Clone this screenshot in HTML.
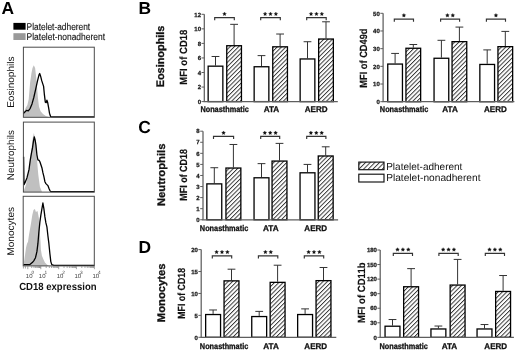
<!DOCTYPE html><html><head><meta charset="utf-8"><style>
html,body{margin:0;padding:0;background:#fff;width:520px;height:352px;overflow:hidden}
svg{display:block;font-family:"Liberation Sans", sans-serif;filter:grayscale(1);text-rendering:geometricPrecision}
.tk{font-size:6px;font-weight:bold;fill:#1a1a1a;stroke:#1a1a1a;stroke-width:0.25px}
.cat{font-size:8.3px;font-weight:bold;fill:#111;stroke:#111;stroke-width:0.3px}
.yl{font-size:10.4px;font-weight:bold;fill:#111;stroke:#111;stroke-width:0.15px}
.cl{font-size:11px;font-weight:bold;fill:#111;stroke:#111;stroke-width:0.3px}
.pl{font-size:17.4px;font-weight:bold;fill:#000}
.lg{font-size:10.2px;fill:#111}
.lgA{font-size:9.8px;fill:#111;stroke:#111;stroke-width:0.12px}
.hl{font-size:9.8px;fill:#111}
.ht{font-size:6px;fill:#444}
.hs{font-size:4.8px;fill:#444}
</style></head><body>
<svg width="520" height="352" viewBox="0 0 520 352">
<defs>
<pattern id="hatch" patternUnits="userSpaceOnUse" width="3.05" height="10" patternTransform="rotate(45)"><rect width="3.05" height="10" fill="#fff"/><line x1="0.5" y1="0" x2="0.5" y2="10" stroke="#222" stroke-width="0.88"/></pattern>
<pattern id="hatchL" patternUnits="userSpaceOnUse" width="3.3" height="10" patternTransform="rotate(45)"><rect width="3.3" height="10" fill="#fff"/><line x1="0.5" y1="0" x2="0.5" y2="10" stroke="#333" stroke-width="0.95"/></pattern>
<polygon id="star" points="0.00,-1.95 0.59,-0.81 1.85,-0.60 0.95,0.31 1.15,1.58 0.00,1.00 -1.15,1.58 -0.95,0.31 -1.85,-0.60 -0.59,-0.81" fill="#111" stroke="#111" stroke-width="0.3"/>
</defs>
<text x="1.6" y="13.6" class="pl">A</text>
<text x="138.4" y="13.6" class="pl">B</text>
<text x="138.2" y="132.6" class="pl">C</text>
<text x="138.4" y="253" class="pl">D</text>
<rect x="13.4" y="22.9" width="12.2" height="6.8" fill="#000"/>
<rect x="13.4" y="33.2" width="12.2" height="6.8" fill="#9a9a9a"/>
<text x="26.6" y="29.7" class="lgA" textLength="63.6" lengthAdjust="spacingAndGlyphs">Platelet-adherent</text>
<text x="26.6" y="40.1" class="lgA" textLength="78.4" lengthAdjust="spacingAndGlyphs">Platelet-nonadherent</text>
<polygon points="23.4,117.3 23.4,117 24.6,110.4 25.9,107.6 27.4,104.9 28.7,99.3 30.1,82.7 31.4,73.5 32.5,67.9 33.8,65.2 35.1,67.9 36.2,77.2 37,86.4 37.9,97.5 39,106.7 40.6,111.3 43,114.1 45.8,115.9 49.5,117.3" fill="#c0c0c0"/>
<polyline points="23.4,113.7 24.6,112.2 26.5,110.4 28.3,110.8 30.1,108.6 32,103.9 33.8,97.5 35.7,89.2 37.5,80.9 39,74.9 39.7,73.5 40.6,76.2 41.8,80.9 42.7,83.6 43.6,86.4 44.3,93.8 45.3,102.1 46.2,102.6 46.9,100.2 47.6,102.1 48.6,107.6 49.5,113.2 50.6,116.5 51.7,116.9 94.3,116.9" fill="none" stroke="#000" stroke-width="1.3" stroke-linejoin="round"/>
<rect x="23.4" y="47.2" width="70.9" height="70.1" fill="none" stroke="#4a4a4a" stroke-width="1"/>
<polygon points="23.4,192.1 23.4,191.7 26,184.7 29,168.8 31,152.9 32.9,136.9 33.9,133 35.5,140.9 36.9,158.8 38.3,174.8 39.9,186.7 41.9,191.7 41.9,192.1" fill="#c0c0c0"/>
<polyline points="23.6,156.8 24,184.6 25,182.7 27,177.7 29,169.7 30.3,159.8 31.5,152.8 32.5,147.9 33.5,140.9 34.3,136.9 35.1,139.9 35.9,144.9 36.9,154.8 37.9,159.8 39.1,160.4 39.9,161.8 40.9,164.8 41.9,167.7 42.9,172.7 43.9,176.7 44.9,181.7 45.9,183.6 46.9,184.6 47.9,185.6 48.9,188.2 49.9,190.6 50.8,191.6 94.3,191.6" fill="none" stroke="#000" stroke-width="1.3" stroke-linejoin="round"/>
<rect x="23.4" y="122.1" width="70.9" height="70" fill="none" stroke="#4a4a4a" stroke-width="1"/>
<polygon points="23.4,265.9 23.4,265.5 24.4,259.6 26,247.7 27,243.7 28,241.7 29,234.8 30.9,223.9 32.3,214.9 33.5,209.9 34.9,208.9 35.9,211.9 37.5,210.9 38.9,217.9 39.5,225.8 39.9,233.8 40.5,241.7 40.9,249.7 41.9,255.7 43.5,259.6 44.9,262.6 46.9,264.6 48.9,265.9" fill="#c0c0c0"/>
<polyline points="23.4,264.6 29.9,264.6 32.3,262.6 33.9,260.6 35.5,257.7 36.9,251.7 37.9,243.7 38.9,231.8 39.9,221.9 40.9,214.9 41.9,208.9 42.9,203 43.9,208.9 44.9,216.9 45.9,222.9 46.9,226.8 47.9,235.8 48.9,243.7 49.9,253.7 50.8,261.6 51.8,264.6 53.8,265.3 94.3,265.3" fill="none" stroke="#000" stroke-width="1.3" stroke-linejoin="round"/>
<rect x="23.2" y="196.3" width="71.1" height="69.6" fill="none" stroke="#4a4a4a" stroke-width="1"/>
<text transform="translate(14.2,82.2) rotate(-90)" text-anchor="middle" class="hl" textLength="51.3" lengthAdjust="spacingAndGlyphs">Eosinophils</text>
<text transform="translate(14.2,155.1) rotate(-90)" text-anchor="middle" class="hl" textLength="50.2" lengthAdjust="spacingAndGlyphs">Neutrophils</text>
<text transform="translate(14.2,231.3) rotate(-90)" text-anchor="middle" class="hl" textLength="48.6" lengthAdjust="spacingAndGlyphs">Monocytes</text>
<path d="M27.8 266.3v2.9M40.8 266.3v2.9M58.7 266.3v2.9M76.4 266.3v2.9M94.4 266.3v2.9M23.4 266.3v2.2M25.4 266.3v2.2M31.71 266.3v1.7M34 266.3v1.7M35.63 266.3v1.7M36.89 266.3v1.7M37.92 266.3v1.7M38.79 266.3v1.7M39.54 266.3v1.7M40.21 266.3v1.7M46.19 266.3v1.7M49.34 266.3v1.7M51.58 266.3v1.7M53.31 266.3v1.7M54.73 266.3v1.7M55.93 266.3v1.7M56.97 266.3v1.7M57.88 266.3v1.7M64.03 266.3v1.7M67.15 266.3v1.7M69.36 266.3v1.7M71.07 266.3v1.7M72.47 266.3v1.7M73.66 266.3v1.7M74.68 266.3v1.7M75.59 266.3v1.7M81.82 266.3v1.7M84.99 266.3v1.7M87.24 266.3v1.7M88.98 266.3v1.7M90.41 266.3v1.7M91.61 266.3v1.7M92.66 266.3v1.7M93.58 266.3v1.7" stroke="#666" stroke-width="0.6" fill="none"/>
<text x="25.8" y="277.6" class="ht">10</text>
<text x="31.4" y="273.9" class="hs">0</text>
<text x="38.8" y="277.6" class="ht">10</text>
<text x="44.4" y="273.9" class="hs">1</text>
<text x="56.7" y="277.6" class="ht">10</text>
<text x="62.3" y="273.9" class="hs">2</text>
<text x="74.4" y="277.6" class="ht">10</text>
<text x="80" y="273.9" class="hs">3</text>
<text x="92.4" y="277.6" class="ht">10</text>
<text x="98" y="273.9" class="hs">4</text>
<text x="19.2" y="289.6" style="font-size:10.3px;font-weight:bold;fill:#111" textLength="77.4" lengthAdjust="spacingAndGlyphs">CD18 expression</text>
<line x1="204.3" y1="14.3" x2="204.3" y2="101.6" stroke="#5e5e5e" stroke-width="1.25"/>
<line x1="201.5" y1="101.6" x2="204.3" y2="101.6" stroke="#5e5e5e" stroke-width="1"/>
<text x="201" y="103.8" text-anchor="end" class="tk">0</text>
<line x1="201.5" y1="87.05" x2="204.3" y2="87.05" stroke="#5e5e5e" stroke-width="1"/>
<text x="201" y="89.25" text-anchor="end" class="tk">2</text>
<line x1="201.5" y1="72.5" x2="204.3" y2="72.5" stroke="#5e5e5e" stroke-width="1"/>
<text x="201" y="74.7" text-anchor="end" class="tk">4</text>
<line x1="201.5" y1="57.95" x2="204.3" y2="57.95" stroke="#5e5e5e" stroke-width="1"/>
<text x="201" y="60.15" text-anchor="end" class="tk">6</text>
<line x1="201.5" y1="43.4" x2="204.3" y2="43.4" stroke="#5e5e5e" stroke-width="1"/>
<text x="201" y="45.6" text-anchor="end" class="tk">8</text>
<line x1="201.5" y1="28.85" x2="204.3" y2="28.85" stroke="#5e5e5e" stroke-width="1"/>
<text x="201" y="31.05" text-anchor="end" class="tk">10</text>
<line x1="201.5" y1="14.3" x2="204.3" y2="14.3" stroke="#5e5e5e" stroke-width="1"/>
<text x="201" y="16.5" text-anchor="end" class="tk">12</text>
<line x1="215.5" y1="56.49" x2="215.5" y2="65.52" stroke="#333" stroke-width="1"/>
<line x1="211.6" y1="56.49" x2="219.4" y2="56.49" stroke="#333" stroke-width="1"/>
<rect x="208.15" y="66.17" width="14.7" height="35.43" fill="white" stroke="#000" stroke-width="1.3"/>
<line x1="234.1" y1="24.34" x2="234.1" y2="45.07" stroke="#333" stroke-width="1"/>
<line x1="230.2" y1="24.34" x2="238" y2="24.34" stroke="#333" stroke-width="1"/>
<rect x="226.75" y="45.72" width="14.7" height="55.88" fill="url(#hatch)" stroke="#000" stroke-width="1.3"/>
<text x="224.6" y="112.1" text-anchor="middle" class="cat" textLength="48.4" lengthAdjust="spacingAndGlyphs">Nonasthmatic</text>
<path d="M214.7 20.35V17.65H234.3V20.35" fill="none" stroke="#333" stroke-width="1.15"/>
<use href="#star" x="224.5" y="14"/>
<line x1="261.5" y1="55.62" x2="261.5" y2="66.1" stroke="#333" stroke-width="1"/>
<line x1="257.6" y1="55.62" x2="265.4" y2="55.62" stroke="#333" stroke-width="1"/>
<rect x="254.15" y="66.75" width="14.7" height="34.85" fill="white" stroke="#000" stroke-width="1.3"/>
<line x1="280.1" y1="34.02" x2="280.1" y2="46.16" stroke="#333" stroke-width="1"/>
<line x1="276.2" y1="34.02" x2="284" y2="34.02" stroke="#333" stroke-width="1"/>
<rect x="272.75" y="46.81" width="14.7" height="54.79" fill="url(#hatch)" stroke="#000" stroke-width="1.3"/>
<text x="271.5" y="112.1" text-anchor="middle" class="cat" textLength="15.6" lengthAdjust="spacingAndGlyphs">ATA</text>
<path d="M260.7 20.35V17.65H280.3V20.35" fill="none" stroke="#333" stroke-width="1.15"/>
<use href="#star" x="265.1" y="14"/>
<use href="#star" x="270.5" y="14"/>
<use href="#star" x="275.9" y="14"/>
<line x1="307.5" y1="41.73" x2="307.5" y2="58.31" stroke="#333" stroke-width="1"/>
<line x1="303.6" y1="41.73" x2="311.4" y2="41.73" stroke="#333" stroke-width="1"/>
<rect x="300.15" y="58.96" width="14.7" height="42.64" fill="white" stroke="#000" stroke-width="1.3"/>
<line x1="326" y1="21.79" x2="326" y2="38.38" stroke="#333" stroke-width="1"/>
<line x1="322.1" y1="21.79" x2="329.9" y2="21.79" stroke="#333" stroke-width="1"/>
<rect x="318.65" y="39.03" width="14.7" height="62.57" fill="url(#hatch)" stroke="#000" stroke-width="1.3"/>
<text x="316.2" y="112.1" text-anchor="middle" class="cat" textLength="22.8" lengthAdjust="spacingAndGlyphs">AERD</text>
<path d="M306.7 20.35V17.65H326.2V20.35" fill="none" stroke="#333" stroke-width="1.15"/>
<use href="#star" x="311.05" y="14"/>
<use href="#star" x="316.45" y="14"/>
<use href="#star" x="321.85" y="14"/>
<line x1="203.6" y1="101.6" x2="337.8" y2="101.6" stroke="#5e5e5e" stroke-width="1.25"/>
<text transform="translate(164.4,56.45) rotate(-90)" text-anchor="middle" class="cl" textLength="61.7" lengthAdjust="spacingAndGlyphs">Eosinophils</text>
<text transform="translate(187.2,57.15) rotate(-90)" text-anchor="middle" class="yl" textLength="55.1" lengthAdjust="spacingAndGlyphs">MFI of CD18</text>
<line x1="383.1" y1="13.3" x2="383.1" y2="101.7" stroke="#5e5e5e" stroke-width="1.25"/>
<line x1="380.3" y1="101.7" x2="383.1" y2="101.7" stroke="#5e5e5e" stroke-width="1"/>
<text x="379.8" y="103.9" text-anchor="end" class="tk">0</text>
<line x1="380.3" y1="84.02" x2="383.1" y2="84.02" stroke="#5e5e5e" stroke-width="1"/>
<text x="379.8" y="86.22" text-anchor="end" class="tk">10</text>
<line x1="380.3" y1="66.34" x2="383.1" y2="66.34" stroke="#5e5e5e" stroke-width="1"/>
<text x="379.8" y="68.54" text-anchor="end" class="tk">20</text>
<line x1="380.3" y1="48.66" x2="383.1" y2="48.66" stroke="#5e5e5e" stroke-width="1"/>
<text x="379.8" y="50.86" text-anchor="end" class="tk">30</text>
<line x1="380.3" y1="30.98" x2="383.1" y2="30.98" stroke="#5e5e5e" stroke-width="1"/>
<text x="379.8" y="33.18" text-anchor="end" class="tk">40</text>
<line x1="380.3" y1="13.3" x2="383.1" y2="13.3" stroke="#5e5e5e" stroke-width="1"/>
<text x="379.8" y="15.5" text-anchor="end" class="tk">50</text>
<line x1="395.1" y1="53.43" x2="395.1" y2="63.41" stroke="#333" stroke-width="1"/>
<line x1="391.2" y1="53.43" x2="399" y2="53.43" stroke="#333" stroke-width="1"/>
<rect x="387.75" y="64.06" width="14.7" height="37.64" fill="white" stroke="#000" stroke-width="1.3"/>
<line x1="413.3" y1="44.51" x2="413.3" y2="47.6" stroke="#333" stroke-width="1"/>
<line x1="409.4" y1="44.51" x2="417.2" y2="44.51" stroke="#333" stroke-width="1"/>
<rect x="405.95" y="48.25" width="14.7" height="53.45" fill="url(#hatch)" stroke="#000" stroke-width="1.3"/>
<text x="404.05" y="112.1" text-anchor="middle" class="cat" textLength="48.4" lengthAdjust="spacingAndGlyphs">Nonasthmatic</text>
<path d="M394.3 21.8V19.1H413.5V21.8" fill="none" stroke="#333" stroke-width="1.15"/>
<use href="#star" x="403.9" y="15.4"/>
<line x1="441.4" y1="40.3" x2="441.4" y2="57.61" stroke="#333" stroke-width="1"/>
<line x1="437.5" y1="40.3" x2="445.3" y2="40.3" stroke="#333" stroke-width="1"/>
<rect x="434.05" y="58.26" width="14.7" height="43.44" fill="white" stroke="#000" stroke-width="1.3"/>
<line x1="459.4" y1="27.09" x2="459.4" y2="41" stroke="#333" stroke-width="1"/>
<line x1="455.5" y1="27.09" x2="463.3" y2="27.09" stroke="#333" stroke-width="1"/>
<rect x="452.05" y="41.65" width="14.7" height="60.05" fill="url(#hatch)" stroke="#000" stroke-width="1.3"/>
<text x="450.1" y="112.1" text-anchor="middle" class="cat" textLength="15.6" lengthAdjust="spacingAndGlyphs">ATA</text>
<path d="M440.6 21.8V19.1H459.6V21.8" fill="none" stroke="#333" stroke-width="1.15"/>
<use href="#star" x="447.4" y="15.4"/>
<use href="#star" x="452.8" y="15.4"/>
<line x1="487.2" y1="49.9" x2="487.2" y2="63.79" stroke="#333" stroke-width="1"/>
<line x1="483.3" y1="49.9" x2="491.1" y2="49.9" stroke="#333" stroke-width="1"/>
<rect x="479.85" y="64.44" width="14.7" height="37.26" fill="white" stroke="#000" stroke-width="1.3"/>
<line x1="505.3" y1="31.4" x2="505.3" y2="46.01" stroke="#333" stroke-width="1"/>
<line x1="501.4" y1="31.4" x2="509.2" y2="31.4" stroke="#333" stroke-width="1"/>
<rect x="497.95" y="46.66" width="14.7" height="55.04" fill="url(#hatch)" stroke="#000" stroke-width="1.3"/>
<text x="495.45" y="112.1" text-anchor="middle" class="cat" textLength="22.8" lengthAdjust="spacingAndGlyphs">AERD</text>
<path d="M486.4 21.8V19.1H505.5V21.8" fill="none" stroke="#333" stroke-width="1.15"/>
<use href="#star" x="495.95" y="15.4"/>
<line x1="382.4" y1="101.7" x2="514.4" y2="101.7" stroke="#5e5e5e" stroke-width="1.25"/>
<text transform="translate(367.2,58.1) rotate(-90)" text-anchor="middle" class="yl" textLength="59.2" lengthAdjust="spacingAndGlyphs">MFI of CD49d</text>
<line x1="203" y1="131.2" x2="203" y2="219.75" stroke="#5e5e5e" stroke-width="1.25"/>
<line x1="200.2" y1="219.75" x2="203" y2="219.75" stroke="#5e5e5e" stroke-width="1"/>
<text x="199.7" y="221.95" text-anchor="end" class="tk">0</text>
<line x1="200.2" y1="208.68" x2="203" y2="208.68" stroke="#5e5e5e" stroke-width="1"/>
<text x="199.7" y="210.88" text-anchor="end" class="tk">1</text>
<line x1="200.2" y1="197.61" x2="203" y2="197.61" stroke="#5e5e5e" stroke-width="1"/>
<text x="199.7" y="199.81" text-anchor="end" class="tk">2</text>
<line x1="200.2" y1="186.54" x2="203" y2="186.54" stroke="#5e5e5e" stroke-width="1"/>
<text x="199.7" y="188.74" text-anchor="end" class="tk">3</text>
<line x1="200.2" y1="175.47" x2="203" y2="175.47" stroke="#5e5e5e" stroke-width="1"/>
<text x="199.7" y="177.67" text-anchor="end" class="tk">4</text>
<line x1="200.2" y1="164.41" x2="203" y2="164.41" stroke="#5e5e5e" stroke-width="1"/>
<text x="199.7" y="166.61" text-anchor="end" class="tk">5</text>
<line x1="200.2" y1="153.34" x2="203" y2="153.34" stroke="#5e5e5e" stroke-width="1"/>
<text x="199.7" y="155.54" text-anchor="end" class="tk">6</text>
<line x1="200.2" y1="142.27" x2="203" y2="142.27" stroke="#5e5e5e" stroke-width="1"/>
<text x="199.7" y="144.47" text-anchor="end" class="tk">7</text>
<line x1="200.2" y1="131.2" x2="203" y2="131.2" stroke="#5e5e5e" stroke-width="1"/>
<text x="199.7" y="133.4" text-anchor="end" class="tk">8</text>
<line x1="214.3" y1="167.73" x2="214.3" y2="183.22" stroke="#333" stroke-width="1"/>
<line x1="210.4" y1="167.73" x2="218.2" y2="167.73" stroke="#333" stroke-width="1"/>
<rect x="206.85" y="183.87" width="14.9" height="35.88" fill="white" stroke="#000" stroke-width="1.3"/>
<line x1="233.4" y1="144.48" x2="233.4" y2="167.39" stroke="#333" stroke-width="1"/>
<line x1="229.5" y1="144.48" x2="237.3" y2="144.48" stroke="#333" stroke-width="1"/>
<rect x="225.95" y="168.04" width="14.9" height="51.71" fill="url(#hatch)" stroke="#000" stroke-width="1.3"/>
<text x="224.05" y="231.2" text-anchor="middle" class="cat" textLength="48.4" lengthAdjust="spacingAndGlyphs">Nonasthmatic</text>
<path d="M213.5 139.1V136.4H233.6V139.1" fill="none" stroke="#333" stroke-width="1.15"/>
<use href="#star" x="223.55" y="132.9"/>
<line x1="261.5" y1="163.63" x2="261.5" y2="177.14" stroke="#333" stroke-width="1"/>
<line x1="257.6" y1="163.63" x2="265.4" y2="163.63" stroke="#333" stroke-width="1"/>
<rect x="254.05" y="177.79" width="14.9" height="41.96" fill="white" stroke="#000" stroke-width="1.3"/>
<line x1="279.5" y1="143.38" x2="279.5" y2="160.42" stroke="#333" stroke-width="1"/>
<line x1="275.6" y1="143.38" x2="283.4" y2="143.38" stroke="#333" stroke-width="1"/>
<rect x="272.05" y="161.07" width="14.9" height="58.68" fill="url(#hatch)" stroke="#000" stroke-width="1.3"/>
<text x="270.8" y="231.2" text-anchor="middle" class="cat" textLength="15.6" lengthAdjust="spacingAndGlyphs">ATA</text>
<path d="M260.7 139.1V136.4H279.7V139.1" fill="none" stroke="#333" stroke-width="1.15"/>
<use href="#star" x="264.8" y="132.9"/>
<use href="#star" x="270.2" y="132.9"/>
<use href="#star" x="275.6" y="132.9"/>
<line x1="307.5" y1="164.41" x2="307.5" y2="172.15" stroke="#333" stroke-width="1"/>
<line x1="303.6" y1="164.41" x2="311.4" y2="164.41" stroke="#333" stroke-width="1"/>
<rect x="300.05" y="172.8" width="14.9" height="46.95" fill="white" stroke="#000" stroke-width="1.3"/>
<line x1="325.7" y1="146.81" x2="325.7" y2="155.33" stroke="#333" stroke-width="1"/>
<line x1="321.8" y1="146.81" x2="329.6" y2="146.81" stroke="#333" stroke-width="1"/>
<rect x="318.25" y="155.98" width="14.9" height="63.77" fill="url(#hatch)" stroke="#000" stroke-width="1.3"/>
<text x="315.75" y="231.2" text-anchor="middle" class="cat" textLength="22.8" lengthAdjust="spacingAndGlyphs">AERD</text>
<path d="M306.7 139.1V136.4H325.9V139.1" fill="none" stroke="#333" stroke-width="1.15"/>
<use href="#star" x="310.9" y="132.9"/>
<use href="#star" x="316.3" y="132.9"/>
<use href="#star" x="321.7" y="132.9"/>
<line x1="202.3" y1="219.75" x2="338.1" y2="219.75" stroke="#5e5e5e" stroke-width="1.25"/>
<text transform="translate(164.7,174.85) rotate(-90)" text-anchor="middle" class="cl" textLength="62.5" lengthAdjust="spacingAndGlyphs">Neutrophils</text>
<text transform="translate(187,174.85) rotate(-90)" text-anchor="middle" class="yl" textLength="51.7" lengthAdjust="spacingAndGlyphs">MFI of CD18</text>
<line x1="201.2" y1="249.6" x2="201.2" y2="337.3" stroke="#5e5e5e" stroke-width="1.25"/>
<line x1="198.4" y1="337.3" x2="201.2" y2="337.3" stroke="#5e5e5e" stroke-width="1"/>
<text x="197.9" y="339.5" text-anchor="end" class="tk">0</text>
<line x1="198.4" y1="315.38" x2="201.2" y2="315.38" stroke="#5e5e5e" stroke-width="1"/>
<text x="197.9" y="317.57" text-anchor="end" class="tk">5</text>
<line x1="198.4" y1="293.45" x2="201.2" y2="293.45" stroke="#5e5e5e" stroke-width="1"/>
<text x="197.9" y="295.65" text-anchor="end" class="tk">10</text>
<line x1="198.4" y1="271.52" x2="201.2" y2="271.52" stroke="#5e5e5e" stroke-width="1"/>
<text x="197.9" y="273.72" text-anchor="end" class="tk">15</text>
<line x1="198.4" y1="249.6" x2="201.2" y2="249.6" stroke="#5e5e5e" stroke-width="1"/>
<text x="197.9" y="251.8" text-anchor="end" class="tk">20</text>
<line x1="213.1" y1="309.98" x2="213.1" y2="313.88" stroke="#333" stroke-width="1"/>
<line x1="209.2" y1="309.98" x2="217" y2="309.98" stroke="#333" stroke-width="1"/>
<rect x="205.65" y="314.53" width="14.9" height="22.77" fill="white" stroke="#000" stroke-width="1.3"/>
<line x1="231.5" y1="269.2" x2="231.5" y2="280.21" stroke="#333" stroke-width="1"/>
<line x1="227.6" y1="269.2" x2="235.4" y2="269.2" stroke="#333" stroke-width="1"/>
<rect x="224.05" y="280.86" width="14.9" height="56.44" fill="url(#hatch)" stroke="#000" stroke-width="1.3"/>
<text x="224.05" y="349.3" text-anchor="middle" class="cat" textLength="48.4" lengthAdjust="spacingAndGlyphs">Nonasthmatic</text>
<path d="M212.3 258.6V255.9H231.7V258.6" fill="none" stroke="#333" stroke-width="1.15"/>
<use href="#star" x="216.6" y="252.1"/>
<use href="#star" x="222" y="252.1"/>
<use href="#star" x="227.4" y="252.1"/>
<line x1="259.2" y1="311.38" x2="259.2" y2="315.9" stroke="#333" stroke-width="1"/>
<line x1="255.3" y1="311.38" x2="263.1" y2="311.38" stroke="#333" stroke-width="1"/>
<rect x="251.75" y="316.55" width="14.9" height="20.75" fill="white" stroke="#000" stroke-width="1.3"/>
<line x1="277.6" y1="265.21" x2="277.6" y2="281.7" stroke="#333" stroke-width="1"/>
<line x1="273.7" y1="265.21" x2="281.5" y2="265.21" stroke="#333" stroke-width="1"/>
<rect x="270.15" y="282.35" width="14.9" height="54.95" fill="url(#hatch)" stroke="#000" stroke-width="1.3"/>
<text x="271.1" y="349.3" text-anchor="middle" class="cat" textLength="15.6" lengthAdjust="spacingAndGlyphs">ATA</text>
<path d="M258.4 258.6V255.9H277.8V258.6" fill="none" stroke="#333" stroke-width="1.15"/>
<use href="#star" x="265.4" y="252.1"/>
<use href="#star" x="270.8" y="252.1"/>
<line x1="305.1" y1="308.89" x2="305.1" y2="313.88" stroke="#333" stroke-width="1"/>
<line x1="301.2" y1="308.89" x2="309" y2="308.89" stroke="#333" stroke-width="1"/>
<rect x="297.65" y="314.53" width="14.9" height="22.77" fill="white" stroke="#000" stroke-width="1.3"/>
<line x1="323.5" y1="267.49" x2="323.5" y2="279.99" stroke="#333" stroke-width="1"/>
<line x1="319.6" y1="267.49" x2="327.4" y2="267.49" stroke="#333" stroke-width="1"/>
<rect x="316.05" y="280.64" width="14.9" height="56.66" fill="url(#hatch)" stroke="#000" stroke-width="1.3"/>
<text x="315.75" y="349.3" text-anchor="middle" class="cat" textLength="22.8" lengthAdjust="spacingAndGlyphs">AERD</text>
<path d="M304.3 258.6V255.9H323.7V258.6" fill="none" stroke="#333" stroke-width="1.15"/>
<use href="#star" x="308.6" y="252.1"/>
<use href="#star" x="314" y="252.1"/>
<use href="#star" x="319.4" y="252.1"/>
<line x1="200.5" y1="337.3" x2="336.3" y2="337.3" stroke="#5e5e5e" stroke-width="1.25"/>
<text transform="translate(165,292.85) rotate(-90)" text-anchor="middle" class="cl" textLength="58.6" lengthAdjust="spacingAndGlyphs">Monocytes</text>
<text transform="translate(184.9,293.35) rotate(-90)" text-anchor="middle" class="yl" textLength="50.9" lengthAdjust="spacingAndGlyphs">MFI of CD18</text>
<line x1="380.2" y1="250" x2="380.2" y2="337.35" stroke="#5e5e5e" stroke-width="1.25"/>
<line x1="377.4" y1="337.35" x2="380.2" y2="337.35" stroke="#5e5e5e" stroke-width="1"/>
<text x="376.9" y="339.55" text-anchor="end" class="tk">0</text>
<line x1="377.4" y1="322.79" x2="380.2" y2="322.79" stroke="#5e5e5e" stroke-width="1"/>
<text x="376.9" y="324.99" text-anchor="end" class="tk">30</text>
<line x1="377.4" y1="308.23" x2="380.2" y2="308.23" stroke="#5e5e5e" stroke-width="1"/>
<text x="376.9" y="310.43" text-anchor="end" class="tk">60</text>
<line x1="377.4" y1="293.68" x2="380.2" y2="293.68" stroke="#5e5e5e" stroke-width="1"/>
<text x="376.9" y="295.88" text-anchor="end" class="tk">90</text>
<line x1="377.4" y1="279.12" x2="380.2" y2="279.12" stroke="#5e5e5e" stroke-width="1"/>
<text x="376.9" y="281.32" text-anchor="end" class="tk">120</text>
<line x1="377.4" y1="264.56" x2="380.2" y2="264.56" stroke="#5e5e5e" stroke-width="1"/>
<text x="376.9" y="266.76" text-anchor="end" class="tk">150</text>
<line x1="377.4" y1="250" x2="380.2" y2="250" stroke="#5e5e5e" stroke-width="1"/>
<text x="376.9" y="252.2" text-anchor="end" class="tk">180</text>
<line x1="392.5" y1="319.54" x2="392.5" y2="325.56" stroke="#333" stroke-width="1"/>
<line x1="388.6" y1="319.54" x2="396.4" y2="319.54" stroke="#333" stroke-width="1"/>
<rect x="385.05" y="326.21" width="14.9" height="11.14" fill="white" stroke="#000" stroke-width="1.3"/>
<line x1="411.1" y1="268.63" x2="411.1" y2="286.1" stroke="#333" stroke-width="1"/>
<line x1="407.2" y1="268.63" x2="415" y2="268.63" stroke="#333" stroke-width="1"/>
<rect x="403.65" y="286.75" width="14.9" height="50.6" fill="url(#hatch)" stroke="#000" stroke-width="1.3"/>
<text x="403.65" y="349.3" text-anchor="middle" class="cat" textLength="48.4" lengthAdjust="spacingAndGlyphs">Nonasthmatic</text>
<path d="M393.3 256V253.3H412.5V256" fill="none" stroke="#333" stroke-width="1.15"/>
<use href="#star" x="397.5" y="249.6"/>
<use href="#star" x="402.9" y="249.6"/>
<use href="#star" x="408.3" y="249.6"/>
<line x1="438.4" y1="326.04" x2="438.4" y2="328.32" stroke="#333" stroke-width="1"/>
<line x1="434.5" y1="326.04" x2="442.3" y2="326.04" stroke="#333" stroke-width="1"/>
<rect x="430.95" y="328.97" width="14.9" height="8.38" fill="white" stroke="#000" stroke-width="1.3"/>
<line x1="457.6" y1="259.41" x2="457.6" y2="284.41" stroke="#333" stroke-width="1"/>
<line x1="453.7" y1="259.41" x2="461.5" y2="259.41" stroke="#333" stroke-width="1"/>
<rect x="450.15" y="285.06" width="14.9" height="52.29" fill="url(#hatch)" stroke="#000" stroke-width="1.3"/>
<text x="449.45" y="349.3" text-anchor="middle" class="cat" textLength="15.6" lengthAdjust="spacingAndGlyphs">ATA</text>
<path d="M438.9 256V253.3H458.2V256" fill="none" stroke="#333" stroke-width="1.15"/>
<use href="#star" x="443.15" y="249.6"/>
<use href="#star" x="448.55" y="249.6"/>
<use href="#star" x="453.95" y="249.6"/>
<line x1="484.5" y1="324.54" x2="484.5" y2="328.32" stroke="#333" stroke-width="1"/>
<line x1="480.6" y1="324.54" x2="488.4" y2="324.54" stroke="#333" stroke-width="1"/>
<rect x="477.05" y="328.97" width="14.9" height="8.38" fill="white" stroke="#000" stroke-width="1.3"/>
<line x1="503.1" y1="275.53" x2="503.1" y2="290.81" stroke="#333" stroke-width="1"/>
<line x1="499.2" y1="275.53" x2="507" y2="275.53" stroke="#333" stroke-width="1"/>
<rect x="495.65" y="291.46" width="14.9" height="45.89" fill="url(#hatch)" stroke="#000" stroke-width="1.3"/>
<text x="495.75" y="349.3" text-anchor="middle" class="cat" textLength="22.8" lengthAdjust="spacingAndGlyphs">AERD</text>
<path d="M485.3 256V253.3H504.5V256" fill="none" stroke="#333" stroke-width="1.15"/>
<use href="#star" x="489.5" y="249.6"/>
<use href="#star" x="494.9" y="249.6"/>
<use href="#star" x="500.3" y="249.6"/>
<line x1="379.5" y1="337.35" x2="513.9" y2="337.35" stroke="#5e5e5e" stroke-width="1.25"/>
<text transform="translate(365.4,292.75) rotate(-90)" text-anchor="middle" class="yl" textLength="60.7" lengthAdjust="spacingAndGlyphs">MFI of CD11b</text>
<rect x="358.8" y="162.1" width="25.2" height="7.6" fill="url(#hatchL)" stroke="#111" stroke-width="1.15"/>
<rect x="358.8" y="174.2" width="25.2" height="7.8" fill="#fff" stroke="#111" stroke-width="1.15"/>
<text x="386.2" y="169.8" class="lg" textLength="76.2" lengthAdjust="spacingAndGlyphs">Platelet-adherent</text>
<text x="386.2" y="181.3" class="lg" textLength="94.3" lengthAdjust="spacingAndGlyphs">Platelet-nonadherent</text>
</svg></body></html>
